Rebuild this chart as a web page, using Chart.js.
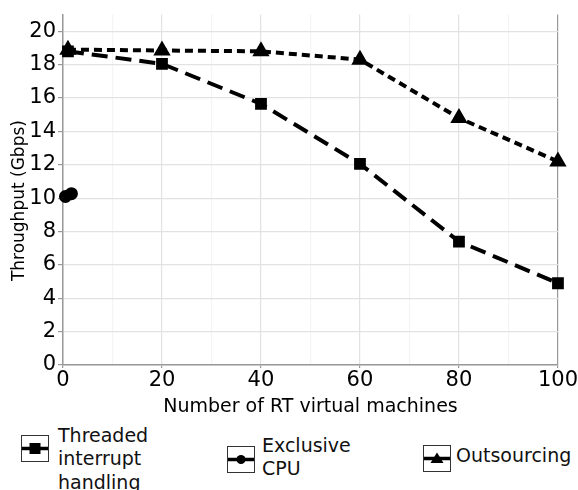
<!DOCTYPE html>
<html>
<head>
<meta charset="utf-8">
<script src="https://cdn.jsdelivr.net/npm/chart.js@4/dist/chart.umd.min.js"></script>
<style>
  body { margin: 0; background: #fff; font-family: "DejaVu Sans", sans-serif; overflow: hidden; }
  #wrap { width: 578px; height: 420px; position: relative; }
  .icono { position: absolute; }
  .texto { position: absolute; font-size: 19px; line-height: 23.5px; color: #111; white-space: nowrap; }
</style>
</head>
<body>
<div id="wrap"><canvas id="grafico" width="578" height="420"></canvas></div>
<div id="legend"></div>
<script>
// Datos
const nombres = ["Threaded interrupt handling", "Exclusive CPU", "Outsourcing"];
const xThreaded = [1, 20, 40, 60, 80, 100];
const yThreaded = [18.8, 18.05, 15.65, 12.05, 7.4, 4.9];
const xExclusive = [0.5, 1.7];
const yExclusive = [10.1, 10.27];
const xOutsourcing = [1, 20, 40, 60, 80, 100];
const yOutsourcing = [18.9, 18.85, 18.8, 18.3, 14.8, 12.2];

const puntos = (xs, ys) => xs.map((x, i) => ({ x: x, y: ys[i] }));

const fuente = { family: "DejaVu Sans", size: 21 };

new Chart(document.getElementById("grafico"), {
    type: "line",
    data: {
        datasets: [
            { label: nombres[0], data: puntos(xThreaded, yThreaded), borderColor: "#000", backgroundColor: "#000",
              borderWidth: 4, borderDash: [16, 8], pointStyle: "rect", pointRadius: 5.5, clip: false },
            { label: nombres[1], data: puntos(xExclusive, yExclusive), borderColor: "#000", backgroundColor: "#000",
              borderWidth: 4, pointStyle: "circle", pointRadius: 4.5, clip: false },
            { label: nombres[2], data: puntos(xOutsourcing, yOutsourcing), borderColor: "#000", backgroundColor: "#000",
              borderWidth: 4, borderDash: [8, 5], pointStyle: "triangle", pointRadius: 6, clip: false }
        ]
    },
    options: {
        responsive: false,
        animation: false,
        layout: { padding: { top: 12, right: 18, left: 9, bottom: 2 } },
        plugins: { legend: { display: false }, tooltip: { enabled: false } },
        scales: {
            x: {
                type: "linear", min: 0, max: 100,
                border: { color: "#999", width: 1.5 },
                grid: {
                    color: c => c.tick.value % 20 === 0 ? (c.tick.value === 100 ? "#999" : "#e2e2e2") : "#f4f4f4",
                    tickColor: c => c.tick.value % 20 === 0 ? "#999" : "rgba(0,0,0,0)",
                    tickLength: 3, lineWidth: 1.2
                },
                ticks: {
                    stepSize: 10, color: "#000", font: fuente, maxRotation: 0, padding: 0,
                    callback: v => v % 20 === 0 ? v : ""
                },
                title: { display: true, text: "Number of RT virtual machines", color: "#000",
                         font: { family: "DejaVu Sans", size: 19 }, padding: { top: 2, bottom: 0 } }
            },
            y: {
                min: 0, max: 21,
                border: { color: "#999", width: 1.5 },
                grid: {
                    color: c => c.tick.value % 2 === 0 ? "#e2e2e2" : "#f4f4f4",
                    tickColor: c => c.tick.value % 2 === 0 ? "#999" : "rgba(0,0,0,0)",
                    tickLength: 5, lineWidth: 1.2
                },
                ticks: {
                    stepSize: 1, color: "#000", font: fuente, padding: 2,
                    callback: v => v % 2 === 0 && v <= 20 ? v : ""
                },
                // espacios al final para bajar un poco el título, como en el original
                title: { display: true, text: "Throughput (Gbps)    ", color: "#000",
                         font: { family: "DejaVu Sans", size: 17 }, padding: { top: 0, bottom: 0 } },
                afterFit: eje => { eje.width = 54; }
            }
        }
    }
});

// Leyenda en HTML (las etiquetas ocupan varias líneas)
const iconos = [
    '<rect x="-5.5" y="-5.5" width="11" height="11"/>',
    '<circle r="4.5"/>',
    '<polygon points="0,-6 6.5,4.5 -6.5,4.5"/>'
];
const leyenda = [
    { lineas: ["Threaded", "interrupt", "handling"], caja: [21, 435], texto: [58, 423.5] },
    { lineas: ["Exclusive", "CPU"], caja: [227, 446], texto: [262, 433.5] },
    { lineas: ["Outsourcing"], caja: [423, 445], texto: [456, 443.5] }
];
const contenedor = document.getElementById("legend");
leyenda.forEach((item, i) => {
    const icono = document.createElement("div");
    icono.className = "icono";
    icono.style.left = item.caja[0] + "px";
    icono.style.top = item.caja[1] + "px";
    icono.innerHTML = `
        <svg width="28" height="27" viewBox="0 0 28 27">
            <rect x="0.5" y="0.5" width="27" height="26" fill="#fff" stroke="#333" stroke-width="1"/>
            <line x1="1" y1="13.5" x2="27" y2="13.5" stroke="#000" stroke-width="3.5"/>
            <g transform="translate(14,13.5)" fill="#000">${iconos[i]}</g>
        </svg>`;
    contenedor.appendChild(icono);

    const texto = document.createElement("div");
    texto.className = "texto";
    texto.style.left = item.texto[0] + "px";
    texto.style.top = item.texto[1] + "px";
    texto.innerHTML = item.lineas.join("<br>");
    contenedor.appendChild(texto);
});
</script>
</body>
</html>
